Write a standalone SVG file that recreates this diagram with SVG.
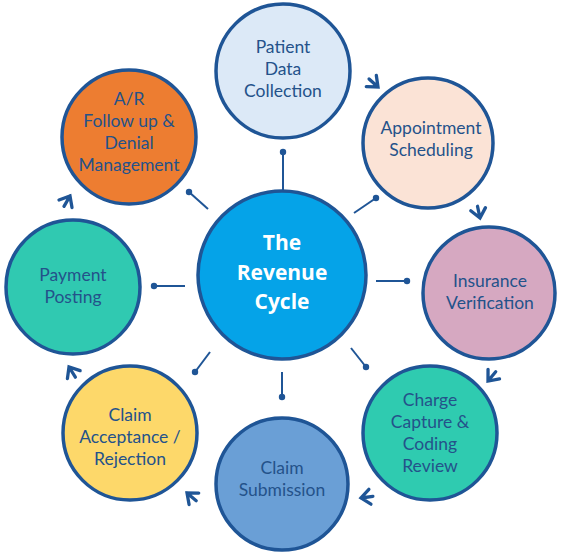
<svg xmlns="http://www.w3.org/2000/svg" width="565" height="557" viewBox="0 0 565 557">
<style>
.n{stroke:#1f5596;stroke-width:3.5}
.t{font-family:Lato,"Open Sans","Liberation Sans",sans-serif;font-size:17.5px;fill:#24528a;text-anchor:middle}
.c{font-family:"Open Sans","Liberation Sans",sans-serif;font-size:21px;font-weight:bold;fill:#ffffff;text-anchor:middle}
.k line{stroke:#1f5596;stroke-width:2}
.k circle{fill:#1f5596}
.a{fill:none;stroke:#1f5596;stroke-width:3.3;stroke-linecap:round;stroke-linejoin:miter}
</style>
<defs>
<path id="arr" d="M-9,-7.5 L0,0 L-9,7.5 M0,0 L-12,0"/>
</defs>
<rect width="565" height="557" fill="#ffffff"/>
<g id="connectors">
<g class="k">
<line x1="283" y1="190" x2="283" y2="152"/><circle cx="283" cy="152" r="3.2"/>
<line x1="354" y1="213" x2="376" y2="198"/><circle cx="376" cy="198" r="3.2"/>
<line x1="376" y1="281" x2="407" y2="281"/><circle cx="407" cy="281" r="3.2"/>
<line x1="351" y1="348" x2="366" y2="367"/><circle cx="366" cy="367" r="3.2"/>
<line x1="282" y1="372" x2="282" y2="397"/><circle cx="282" cy="397" r="3.2"/>
<line x1="210" y1="352" x2="195" y2="372"/><circle cx="195" cy="372" r="3.2"/>
<line x1="185" y1="286" x2="154" y2="286"/><circle cx="154" cy="286" r="3.2"/>
<line x1="208" y1="209" x2="189" y2="192"/><circle cx="189" cy="192" r="3.2"/>
</g>
<g class="a">
<use href="#arr" transform="translate(378,87) rotate(42)"/>
<use href="#arr" transform="translate(480,218) rotate(78)"/>
<use href="#arr" transform="translate(488,381) rotate(130)"/>
<use href="#arr" transform="translate(361,498) rotate(172)"/>
<use href="#arr" transform="translate(187,493) rotate(220)"/>
<use href="#arr" transform="translate(69,367) rotate(238)"/>
<use href="#arr" transform="translate(70,196) rotate(300)"/>
</g>
</g>
<g id="center">
<circle class="n" cx="282" cy="275" r="84" fill="#05a3e8"/>
<text class="c" x="282" y="250">The</text>
<text class="c" x="282" y="280">Revenue</text>
<text class="c" x="282" y="309">Cycle</text>
</g>
<g id="patient">
<circle class="n" cx="283" cy="71" r="67" fill="#dce9f7"/>
<text class="t" x="283" y="53">Patient</text>
<text class="t" x="283" y="75">Data</text>
<text class="t" x="283" y="97">Collection</text>
</g>
<g id="appointment">
<circle class="n" cx="428" cy="143" r="65" fill="#fbe3d6"/>
<text class="t" x="431" y="134">Appointment</text>
<text class="t" x="431" y="156">Scheduling</text>
</g>
<g id="insurance">
<circle class="n" cx="489" cy="293" r="66" fill="#d6a8c1"/>
<text class="t" x="490" y="287">Insurance</text>
<text class="t" x="490" y="309">Verification</text>
</g>
<g id="charge">
<circle class="n" cx="430" cy="433" r="67" fill="#2fcbb0"/>
<text class="t" x="430" y="406">Charge</text>
<text class="t" x="430" y="428">Capture &amp;</text>
<text class="t" x="430" y="450">Coding</text>
<text class="t" x="430" y="472">Review</text>
</g>
<g id="submission">
<circle class="n" cx="282" cy="484" r="66" fill="#6a9fd6"/>
<text class="t" x="282" y="474">Claim</text>
<text class="t" x="282" y="496">Submission</text>
</g>
<g id="acceptance">
<circle class="n" cx="130" cy="433" r="67" fill="#fdd86a"/>
<text class="t" x="130" y="421">Claim</text>
<text class="t" x="130" y="443">Acceptance /</text>
<text class="t" x="130" y="465">Rejection</text>
</g>
<g id="payment">
<circle class="n" cx="73" cy="287" r="67" fill="#30c9b1"/>
<text class="t" x="73" y="281">Payment</text>
<text class="t" x="73" y="303">Posting</text>
</g>
<g id="ar">
<circle class="n" cx="129" cy="137" r="67" fill="#ed7d31"/>
<text class="t" x="129" y="105">A/R</text>
<text class="t" x="129" y="127">Follow up &amp;</text>
<text class="t" x="129" y="149">Denial</text>
<text class="t" x="129" y="171">Management</text>
</g>
</svg>
